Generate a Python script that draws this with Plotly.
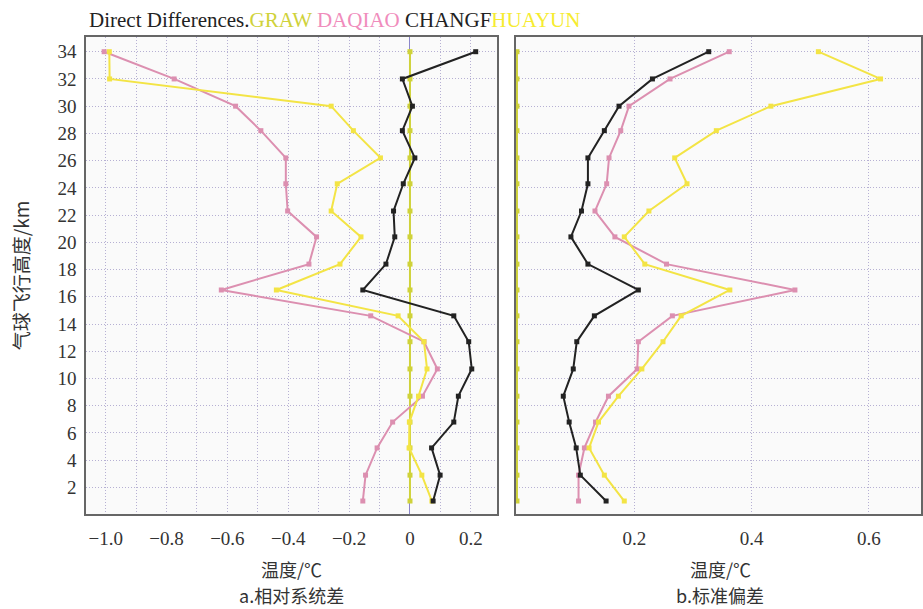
import plotly.graph_objects as go

# Balloon flight heights (km) of the comparison levels
heights = [34, 32, 30, 28.2, 26.2, 24.3, 22.3, 20.4, 18.4, 16.5, 14.6, 12.7, 10.7, 8.7, 6.8, 4.9, 2.9, 1.0]

# a. relative systematic difference (deg C), GRAW is the reference
bias_graw = [0] * 18
bias_daqiao = [-1.005, -0.775, -0.573, -0.490, -0.408, -0.408, -0.402, -0.307, -0.332, -0.620,
               -0.129, 0.046, 0.090, 0.041, -0.057, -0.108, -0.146, -0.155]
bias_changf = [0.216, -0.025, 0.008, -0.025, 0.016, -0.022, -0.054, -0.050, -0.079, -0.155,
               0.144, 0.193, 0.203, 0.159, 0.144, 0.071, 0.099, 0.076]
bias_huayun = [-0.988, -0.987, -0.259, -0.186, -0.097, -0.239, -0.259, -0.161, -0.230, -0.439,
               -0.039, 0.046, 0.056, 0.028, -0.002, -0.003, 0.039, 0.072]

# b. standard deviation (deg C)
std_graw = [0] * 18
std_daqiao = [0.362, 0.261, 0.191, 0.177, 0.157, 0.153, 0.133, 0.167, 0.255, 0.474,
              0.265, 0.207, 0.205, 0.156, 0.134, 0.115, 0.105, 0.105]
std_changf = [0.327, 0.231, 0.174, 0.149, 0.121, 0.121, 0.110, 0.092, 0.121, 0.207,
              0.132, 0.102, 0.096, 0.079, 0.089, 0.101, 0.108, 0.152]
std_huayun = [0.514, 0.620, 0.433, 0.340, 0.269, 0.290, 0.225, 0.183, 0.218, 0.363,
              0.280, 0.249, 0.213, 0.173, 0.139, 0.123, 0.149, 0.183]

y_ticks = list(range(2, 35, 2))
left_ticks = [-1.0, -0.8, -0.6, -0.4, -0.2, 0, 0.2]
left_labels = ["\u22121.0", "\u22120.8", "\u22120.6", "\u22120.4", "\u22120.2", "0", "0.2"]
right_ticks = [0.2, 0.4, 0.6]
right_labels = ["0.2", "0.4", "0.6"]

C_GRAW = "#cfd23a"
C_DAQIAO = "#dc8fb0"
C_CHANGF = "#222222"
C_HUAYUN = "#f3e445"

SERIF = "Liberation Serif, DejaVu Serif, serif"
CJK = "Noto Sans CJK SC, sans-serif"

fig = go.Figure()

series = [
    ("GRAW", C_GRAW, bias_graw, std_graw),
    ("DAQIAO", C_DAQIAO, bias_daqiao, std_daqiao),
    ("HUAYUN", C_HUAYUN, bias_huayun, std_huayun),
    ("CHANGF", C_CHANGF, bias_changf, std_changf),
]

for name, color, left_vals, right_vals in series:
    fig.add_trace(go.Scatter(
        x=left_vals, y=heights, mode="lines+markers", name=name,
        line=dict(color=color, width=2), marker=dict(color=color, size=5, symbol="square"),
        xaxis="x", yaxis="y", showlegend=False))
    fig.add_trace(go.Scatter(
        x=right_vals, y=heights, mode="lines+markers", name=name,
        line=dict(color=color, width=2), marker=dict(color=color, size=5, symbol="square"),
        xaxis="x2", yaxis="y2", showlegend=False))

GRID_C = "#b6b0d3"
grid = dict(showgrid=True, gridcolor=GRID_C, griddash="1px,2px", gridwidth=1.3)
border = dict(showline=True, linecolor="#666666", linewidth=1.5, mirror=True, ticks="")
tickfont = dict(family=SERIF, size=19, color="#333")

left_dom = [0, 412 / 837]
right_dom = [431 / 837, 1]

fig.update_layout(
    width=923, height=609,
    margin=dict(l=86, r=0, t=37, b=95),
    paper_bgcolor="white", plot_bgcolor="#fafafa",
    xaxis=dict(domain=left_dom, range=[-1.0646, 0.286], tickvals=left_ticks, ticktext=left_labels,
               tickfont=tickfont, ticklabelstandoff=6,
               minor=dict(dtick=0.1, tick0=0, showgrid=True, gridcolor=GRID_C,
                          griddash="1px,2px", gridwidth=1.3),
               zeroline=True, zerolinecolor="#8b86c9", zerolinewidth=1, **grid, **border),
    yaxis=dict(domain=[0, 1], range=[0.047, 35.08], tickvals=y_ticks,
               tickfont=tickfont, ticklabelstandoff=4,
               zeroline=False, **grid, **border),
    xaxis2=dict(domain=right_dom, range=[-0.0017, 0.689], tickvals=right_ticks, ticktext=right_labels,
                tickfont=tickfont, ticklabelstandoff=6,
                zeroline=False, anchor="y2", **grid, **border),
    yaxis2=dict(domain=[0, 1], range=[0.047, 35.08], tickvals=y_ticks, showticklabels=False,
                anchor="x2", zeroline=False, **grid, **border),
)

title_html = ("<span style='color:#222'>Direct Differences.</span>"
              f"<span style='color:{C_GRAW}'>GRAW </span>"
              "<span style='color:#f08cbc'>DAQIAO </span>"
              f"<span style='color:{C_CHANGF}'>CHANGF</span>"
              "<span style='color:#f6ec30'>HUAYUN</span>")

ann = [
    dict(text=title_html, x=1 / 837, y=1 + 17 / 477, xref="paper", yref="paper",
         xanchor="left", yanchor="middle", showarrow=False,
         font=dict(family=SERIF, size=21)),
    dict(text="气球飞行高度/km", x=-66 / 837, y=(514 - 275) / 477, xref="paper", yref="paper",
         textangle=-90, showarrow=False, xanchor="center", yanchor="middle",
         font=dict(family=CJK, size=19, color="#333")),
    dict(text="温度/℃", x=206 / 837, y=-55 / 477, xref="paper", yref="paper",
         showarrow=False, xanchor="center", yanchor="middle",
         font=dict(family=CJK, size=18, color="#333")),
    dict(text="a.相对系统差", x=206 / 837, y=-81 / 477, xref="paper", yref="paper",
         showarrow=False, xanchor="center", yanchor="middle",
         font=dict(family=CJK, size=18, color="#333")),
    dict(text="温度/℃", x=636 / 837, y=-55 / 477, xref="paper", yref="paper",
         showarrow=False, xanchor="center", yanchor="middle",
         font=dict(family=CJK, size=18, color="#333")),
    dict(text="b.标准偏差", x=636 / 837, y=-81 / 477, xref="paper", yref="paper",
         showarrow=False, xanchor="center", yanchor="middle",
         font=dict(family=CJK, size=18, color="#333")),
]
fig.update_layout(annotations=ann)

fig.write_html("out.html")
